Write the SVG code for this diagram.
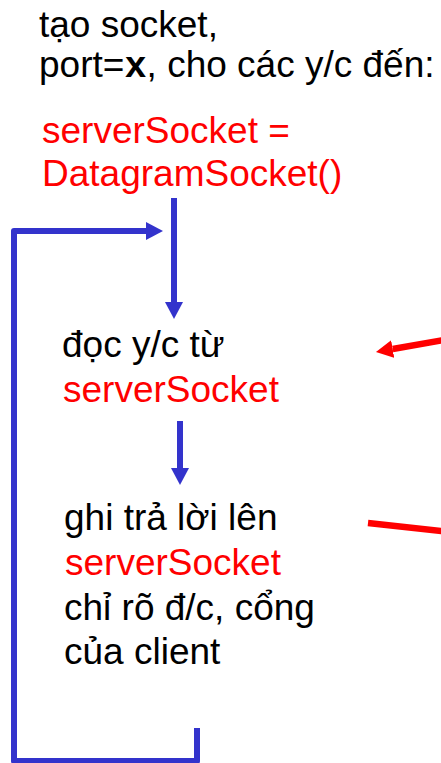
<svg xmlns="http://www.w3.org/2000/svg" width="441" height="763" viewBox="0 0 441 763">
  <style>
    text { font-family: "Liberation Sans", Arial, sans-serif; font-size: 37px; }
    .blk { fill: #000000; }
    .red { fill: #FF0000; }
    .code { font-family: "Liberation Mono", "Courier New", monospace; font-weight: bold; }
    .flow { fill: none; stroke: #3333CC; stroke-width: 6; }
    .msg { fill: none; stroke: #FF0000; stroke-width: 6.5; }
  </style>
  <defs>
    <marker id="headBlue" markerUnits="userSpaceOnUse" markerWidth="18" markerHeight="18" refX="0" refY="9" orient="auto">
      <path d="M0,0 L17,9 L0,18 z" fill="#3333CC"/>
    </marker>
    <marker id="headRed" markerUnits="userSpaceOnUse" markerWidth="18" markerHeight="20" refX="0" refY="10" orient="auto">
      <path d="M0,1 L17,10 L0,19 z" fill="#FF0000"/>
    </marker>
  </defs>

  <rect width="441" height="763" fill="#FFFFFF"/>

  <g id="create-socket">
    <text class="blk" x="39" y="37">tạo socket,</text>
    <text class="blk" x="39" y="77">port=<tspan class="code">x</tspan>, cho các y/c đến:</text>
    <text class="red" x="42" y="143">serverSocket =</text>
    <text class="red" x="42" y="186">DatagramSocket()</text>
  </g>

  <g id="read-request">
    <text class="blk" x="62" y="357">đọc y/c từ</text>
    <text class="red" x="63" y="402">serverSocket</text>
  </g>

  <g id="write-reply">
    <text class="blk" x="64" y="530">ghi trả lời lên</text>
    <text class="red" x="65" y="575">serverSocket</text>
    <text class="blk" x="64" y="620">chỉ rõ đ/c, cổng</text>
    <text class="blk" x="64" y="664">của client</text>
  </g>

  <g id="connectors">
    <line class="flow" x1="174" y1="198" x2="174" y2="302" marker-end="url(#headBlue)"/>
    <line class="flow" x1="180" y1="421" x2="180" y2="468" marker-end="url(#headBlue)"/>
    <path class="flow" d="M197,728 V761 H14 V231 H146" stroke-linejoin="round" marker-end="url(#headBlue)"/>
    <line class="msg" x1="460" y1="337.1" x2="392.7" y2="349" marker-end="url(#headRed)"/>
    <line class="msg" x1="368" y1="523" x2="460" y2="533"/>
  </g>
</svg>
